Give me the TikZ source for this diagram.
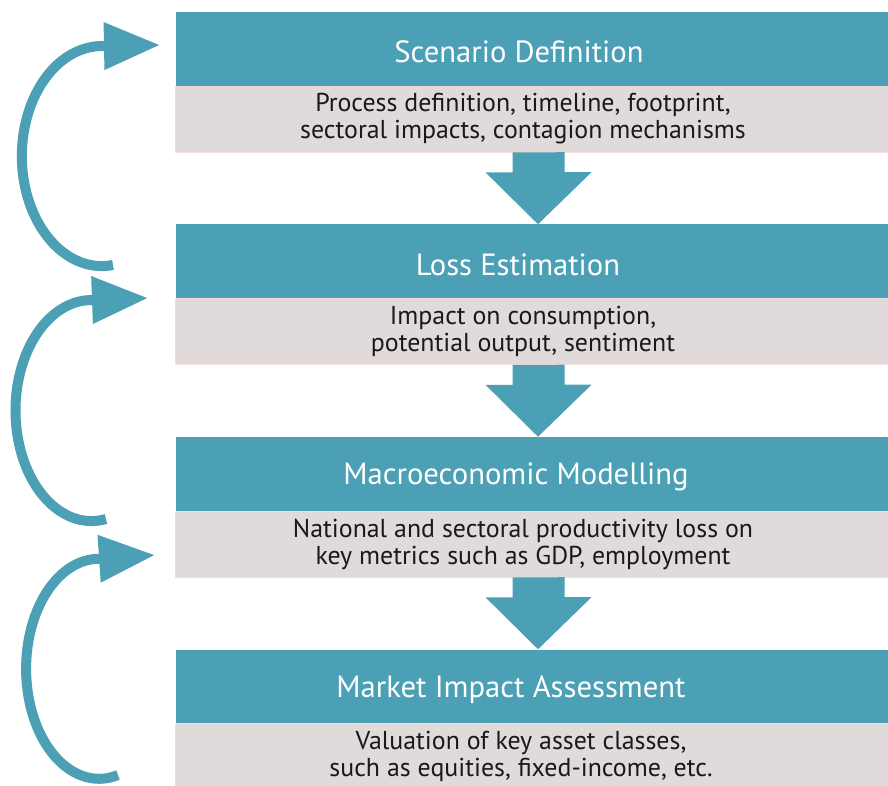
\documentclass[tikz,border=0pt]{standalone}
\usepackage{fontspec}
\setmainfont{PT Sans}
\usetikzlibrary{arrows.meta}

\definecolor{flowteal}{HTML}{4BA0B5}
\definecolor{flowgrey}{HTML}{E0DADB}
\definecolor{flowpink}{HTML}{F3DCDC}

\tikzset{
  stage/.style={fill=flowteal, minimum width=17.85cm, minimum height=1.85cm, inner sep=0pt},
  detail/.style={fill=flowgrey, draw=flowpink, line width=0.6pt, minimum width=17.85cm, minimum height=1.65cm, inner sep=0pt},
  stagetext/.style={text=white, inner sep=0pt, font=\fontsize{21.8}{26}\selectfont},
  detailtext/.style={text=black!90, inner sep=0pt, align=center, font=\fontsize{18.4}{19.2}\selectfont},
  downarrow/.style={fill=flowteal},
  feedback/.style={draw=flowteal, line width=0.25cm, -{Triangle[length=1.4cm, width=1.125cm]}}
}

\begin{document}
\begin{tikzpicture}[x=0.025cm, y=-0.025cm]
\useasboundingbox (0,0) rectangle (888,785);

\node[stage] (hdr1) at (533,49) {};
\node[detail] (body1) at (533,119) {};
\node[stagetext] (hdr1t) at (519,52) {Scenario Definition};
\node[detailtext] (body1t) at (523,119) {Process definition, timeline, footprint,\\sectoral impacts, contagion mechanisms};

\node[stage] (hdr2) at (533,261.5) {};
\node[detail] (body2) at (533,331.5) {};
\node[stagetext] (hdr2t) at (518,264.5) {Loss Estimation};
\node[detailtext] (body2t) at (523,331.5) {Impact on consumption,\\potential output, sentiment};

\node[stage] (hdr3) at (533,474) {};
\node[detail] (body3) at (533,544) {};
\node[stagetext] (hdr3t) at (516,477) {Macroeconomic Modelling};
\node[detailtext] (body3t) at (523,544) {National and sectoral productivity loss on\\key metrics such as GDP, employment};

\node[stage] (hdr4) at (533,686.5) {};
\node[detail] (body4) at (533,756) {};
\node[stagetext] (hdr4t) at (511,689.5) {Market Impact Assessment};
\node[detailtext] (body4t) at (521,756) {Valuation of key asset classes,\\such as equities, fixed-income, etc.};

% arrows between the stages
\fill[downarrow] ([xshift=-0.51cm]body1.south) -- ++(0,20) -- ++(-27,0) -- ([xshift=0.125cm]hdr2.north)
  -- ++(53.5,-52) -- ++(-27,0) -- ++(0,-20) -- cycle;
\fill[downarrow] ([xshift=-0.51cm]body2.south) -- ++(0,20) -- ++(-27,0) -- ([xshift=0.125cm]hdr3.north)
  -- ++(53.5,-52) -- ++(-27,0) -- ++(0,-20) -- cycle;
\fill[downarrow] ([xshift=-0.51cm]body3.south) -- ++(0,20) -- ++(-27,0) -- ([xshift=0.125cm]hdr4.north)
  -- ++(53.5,-52) -- ++(-27,0) -- ++(0,-20) -- cycle;

% feedback loops on the left
\coordinate (fb1s) at (113,265);
\coordinate (fb1e) at (160,45);
\coordinate (fb2s) at (106,519);
\coordinate (fb2e) at (148,298);
\coordinate (fb3s) at (118,775);
\coordinate (fb3e) at (155,555);
\draw[feedback] (fb1s) arc[start angle=82, end angle=270, x radius=80, y radius=110] -- (fb1e);
\draw[feedback] (fb2s) arc[start angle=79, end angle=270, x radius=76, y radius=110.5] -- (fb2e);
\draw[feedback] (fb3s) arc[start angle=75, end angle=270, x radius=73, y radius=110] -- (fb3e);
\end{tikzpicture}
\end{document}
